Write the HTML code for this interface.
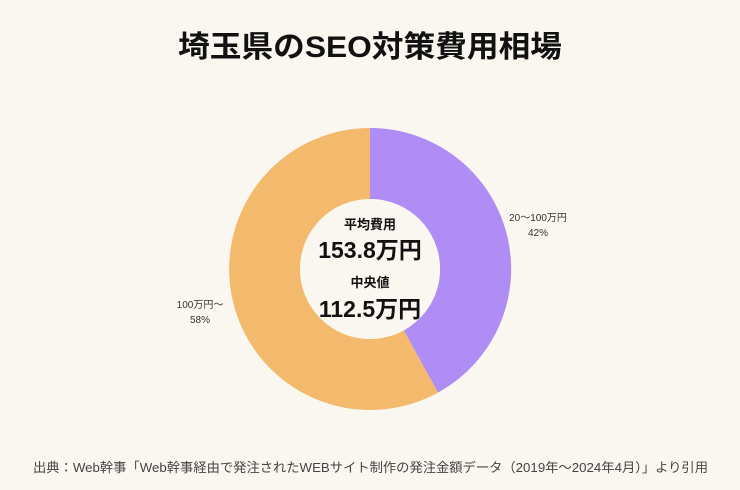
<!DOCTYPE html>
<html><head><meta charset="utf-8"><style>
html,body{margin:0;padding:0;background:#faf6f0;}
body{width:740px;height:485px;overflow:hidden;font-family:"Liberation Sans","Noto Sans CJK JP",sans-serif;}
</style></head><body>
<svg width="740" height="485" viewBox="0 0 740 485" xmlns="http://www.w3.org/2000/svg" style="font-family:'Liberation Sans','Noto Sans CJK JP',sans-serif">
<rect width="740" height="485" fill="#faf6f0"/>
<text x="178" y="57" textLength="384" lengthAdjust="spacingAndGlyphs" font-size="30" font-weight="bold" fill="#111">埼玉県のSEO対策費用相場</text>
<path d="M370,128 A141,141 0 0 1 438,392.6 L403.7,330.4 A70,70 0 0 0 370,199 Z" fill="#b08cf5"/>
<path d="M438,392.6 A141,141 0 1 1 370,128 L370,199 A70,70 0 1 0 403.7,330.4 Z" fill="#f3b96c"/>
<circle cx="370" cy="269" r="70" fill="#faf6f0"/>
<text x="370" y="229" text-anchor="middle" font-size="13" font-weight="bold" fill="#111">平均費用</text>
<text x="370" y="258" text-anchor="middle" font-size="23" font-weight="bold" fill="#111">153.8万円</text>
<text x="370" y="287" text-anchor="middle" font-size="13" font-weight="bold" fill="#111">中央値</text>
<text x="370" y="317" text-anchor="middle" font-size="23" font-weight="bold" fill="#111">112.5万円</text>
<text x="538" y="221" text-anchor="middle" font-size="10" fill="#333">20〜100万円</text>
<text x="538" y="236" text-anchor="middle" font-size="10" fill="#333">42%</text>
<text x="200" y="308" text-anchor="middle" font-size="10" fill="#333">100万円〜</text>
<text x="200" y="323" text-anchor="middle" font-size="10" fill="#333">58%</text>
<text x="33" y="472" textLength="675" lengthAdjust="spacingAndGlyphs" font-size="13" fill="#444">出典：Web幹事「Web幹事経由で発注されたWEBサイト制作の発注金額データ（2019年〜2024年4月）」より引用</text>
</svg>
</body></html>
